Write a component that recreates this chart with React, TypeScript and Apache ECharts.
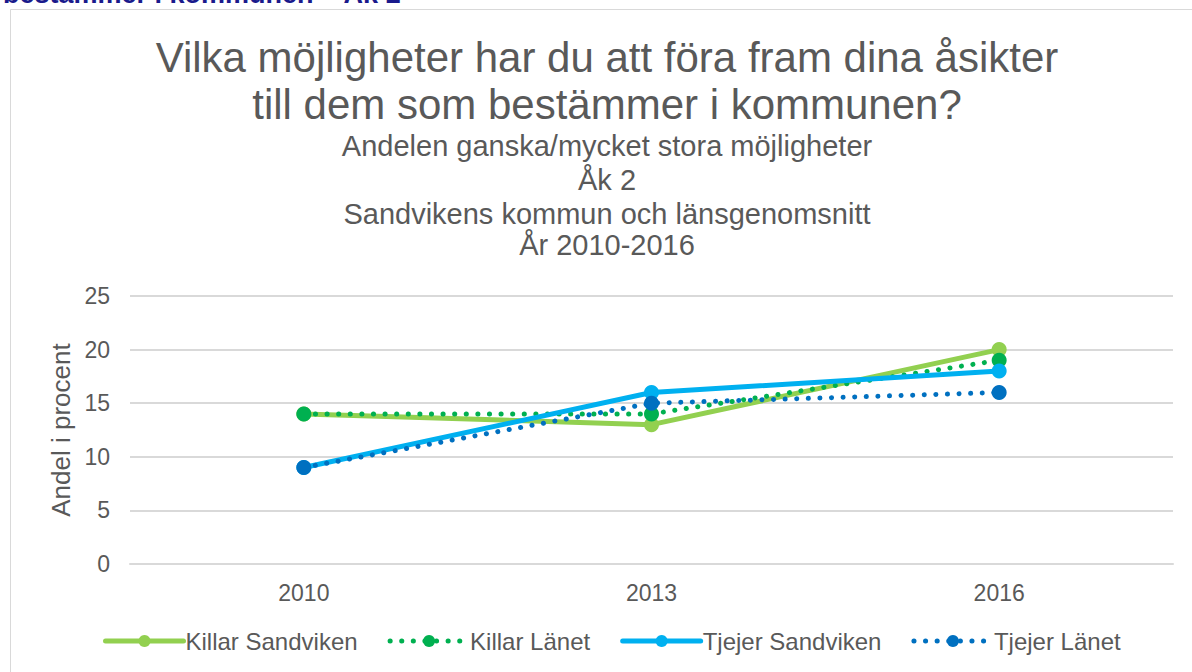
import React, { useEffect, useRef } from "react";
import * as echarts from "echarts";

const years = ["2010", "2013", "2016"];
const killarSandviken = [14, 13, 20];
const killarLanet = [14, 14, 19];
const tjejerSandviken = [9, 16, 18];
const tjejerLanet = [9, 15, 16];
const seriesNames = ["Killar Sandviken", "Killar Länet", "Tjejer Sandviken", "Tjejer Länet"];
const colors = ["#92d050", "#00b050", "#00b0f0", "#0070c0"];
const titleLines = ["Vilka möjligheter har du att föra fram dina åsikter", "till dem som bestämmer i kommunen?"];
const subtitleLines = [
  "Andelen ganska/mycket stora möjligheter",
  "Åk 2",
  "Sandvikens kommun och länsgenomsnitt",
  "År 2010-2016",
];

export default function App() {
  const ref = useRef<HTMLDivElement>(null);
  useEffect(() => {
    document.body.style.margin = "0";
    const chart = echarts.init(ref.current!, null, { renderer: "svg" });
    const fam = "'Liberation Sans', Arial, sans-serif";
    const textColor = "#595959";
    const mk = (i: number, data: number[], dotted: boolean) => ({
      name: seriesNames[i],
      type: "line",
      data,
      symbol: "circle",
      symbolSize: 15,
      itemStyle: { color: colors[i] },
      lineStyle: {
        color: colors[i],
        width: 5,
        type: dotted ? [0.1, 11.5] : "solid",
        cap: "round",
      },
      z: 2 + i,
    });
    const titleY = [57, 104];
    const subY = [146, 180, 214, 245];
    chart.setOption({
      animation: false,
      textStyle: { fontFamily: fam },
      graphic: [
        {
          type: "text",
          x: 3,
          y: -6,
          style: {
            text: "bestämmer i kommunen – Åk 2",
            font: "bold 27px 'Liberation Sans', Arial, sans-serif",
            fill: "#1a1a8c",
            verticalAlign: "middle",
          },
        },
        {
          type: "rect",
          shape: { x: 10.5, y: 9.5, width: 1200, height: 700 },
          style: { fill: "none", stroke: "#d9d9d9", lineWidth: 1 },
          z: -1,
        },
        ...titleLines.map((t, i) => ({
          type: "text",
          x: 607,
          y: titleY[i],
          style: {
            text: t,
            font: "42px 'Liberation Sans', Arial, sans-serif",
            fill: textColor,
            align: "center",
            verticalAlign: "middle",
          },
        })),
        ...subtitleLines.map((t, i) => ({
          type: "text",
          x: 607,
          y: subY[i],
          style: {
            text: t,
            font: "29px 'Liberation Sans', Arial, sans-serif",
            fill: textColor,
            align: "center",
            verticalAlign: "middle",
          },
        })),
      ],
      grid: { left: 130, right: 19, top: 296, bottom: 108, containLabel: false },
      xAxis: {
        type: "category",
        data: years,
        boundaryGap: true,
        axisLine: { show: true, lineStyle: { color: "#d9d9d9", width: 2 } },
        axisTick: { show: false },
        axisLabel: { color: textColor, fontSize: 23, margin: 17, fontFamily: fam },
      },
      yAxis: {
        type: "value",
        min: 0,
        max: 25,
        interval: 5,
        name: "Andel i procent",
        nameLocation: "middle",
        nameGap: 54,
        nameTextStyle: { color: textColor, fontSize: 26, fontFamily: fam },
        axisLine: { show: false },
        axisTick: { show: false },
        axisLabel: { color: textColor, fontSize: 23, margin: 20, fontFamily: fam },
        splitLine: { lineStyle: { color: "#d9d9d9", width: 2 } },
      },
      legend: {
        bottom: 14,
        left: 98,
        itemWidth: 78,
        itemHeight: 15,
        itemGap: 30,
        lineStyle: { width: 5 },
        textStyle: { color: textColor, fontSize: 24, fontFamily: fam, padding: [0, 0, 0, -3] },
        data: seriesNames,
      },
      series: [
        mk(0, killarSandviken, false),
        mk(1, killarLanet, true),
        mk(2, tjejerSandviken, false),
        mk(3, tjejerLanet, true),
      ],
    });
    return () => chart.dispose();
  }, []);
  return (
    <div
      ref={ref}
      style={{ position: "fixed", left: 0, top: 0, width: 1192, height: 672, background: "#fff" }}
    />
  );
}
